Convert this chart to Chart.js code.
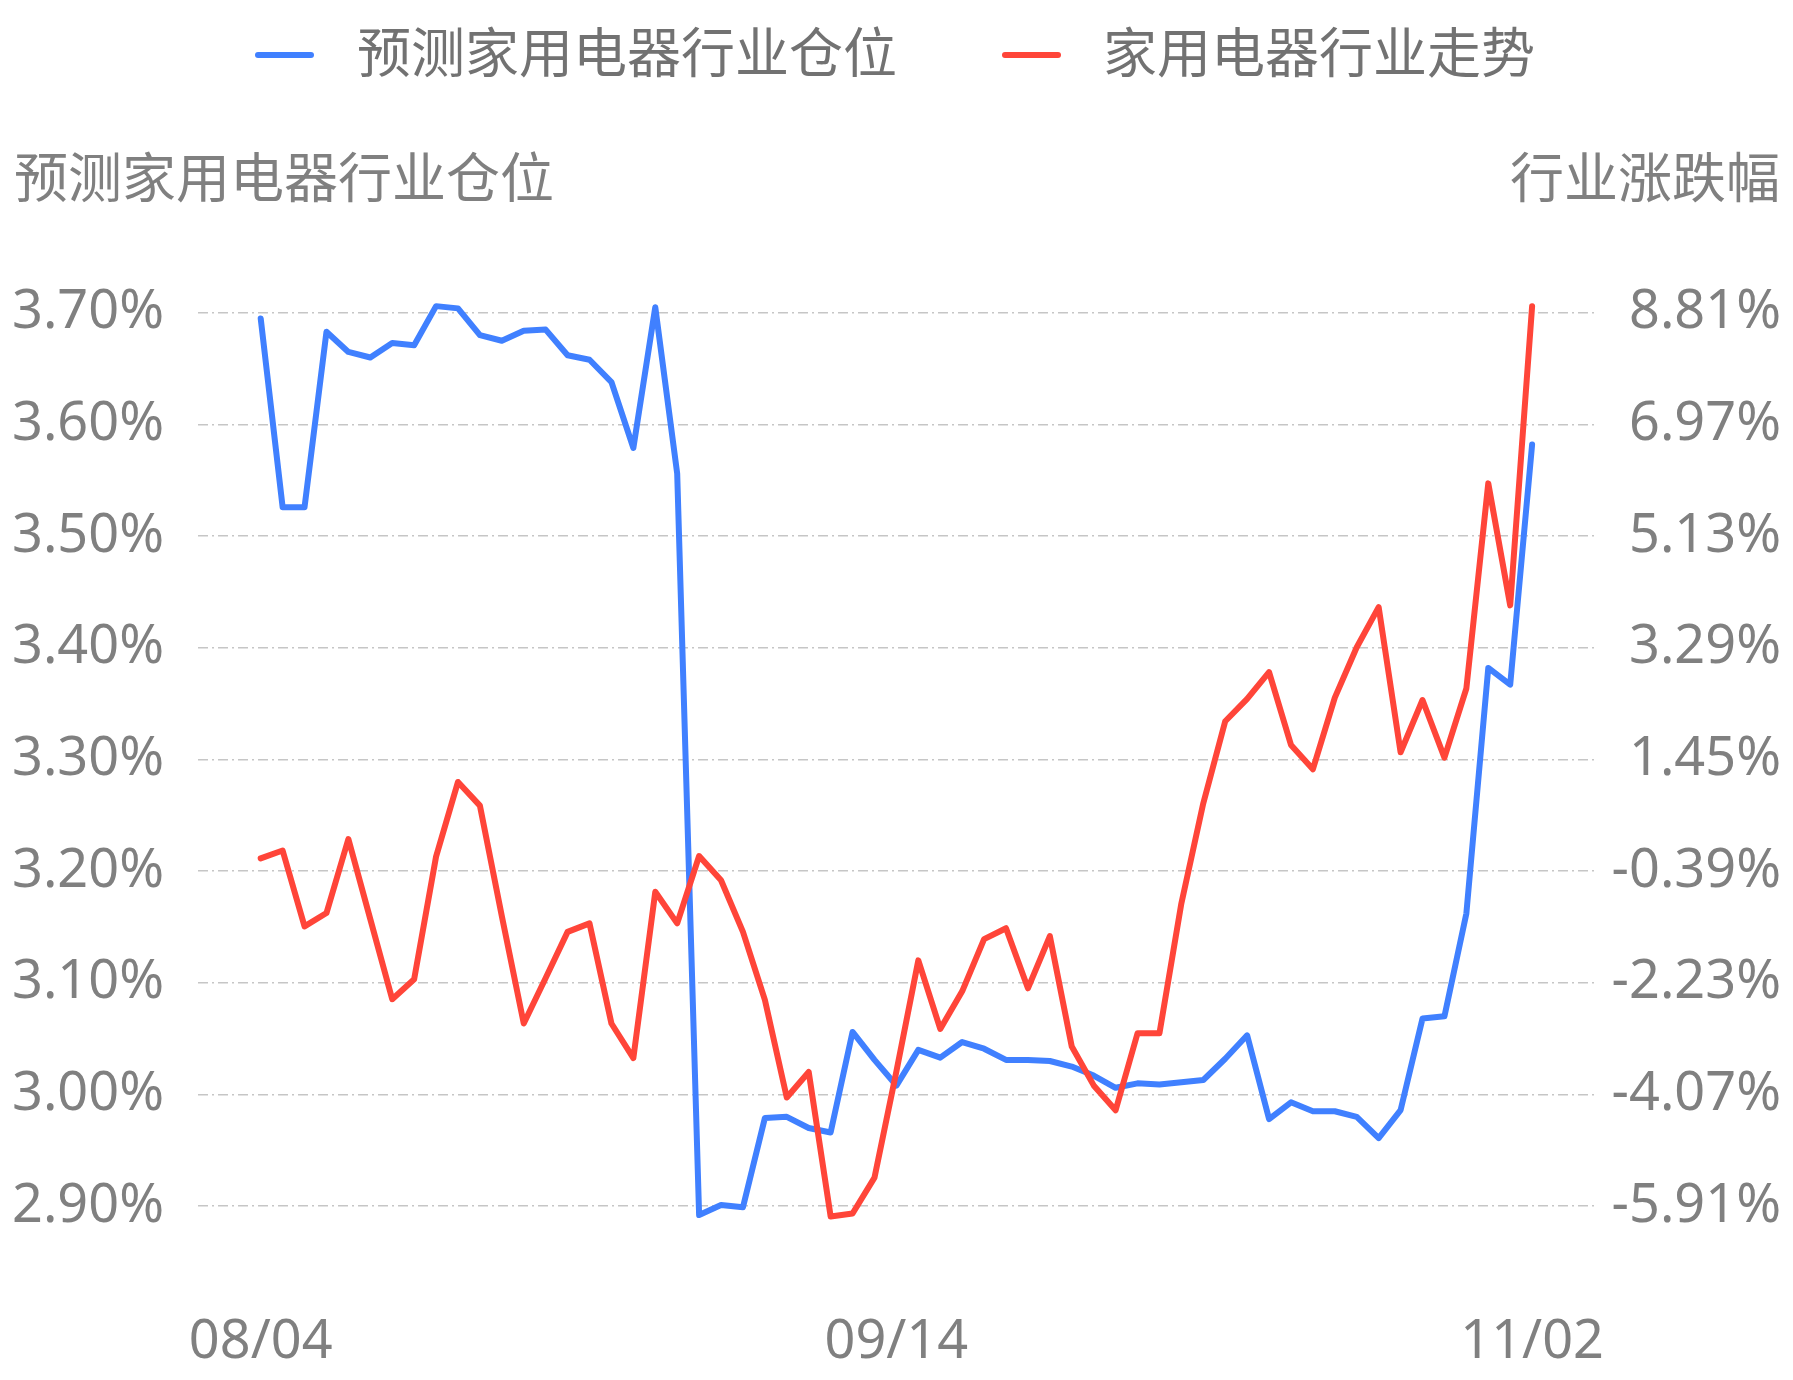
<!DOCTYPE html>
<html>
<head>
<meta charset="utf-8">
<script src="https://cdn.jsdelivr.net/npm/chart.js"></script>
<style>
  html, body { margin: 0; padding: 0; background: #fff; }
  #wrap { width: 1793px; height: 1380px; }
</style>
</head>
<body>
<div id="wrap"><canvas id="chart" width="1793" height="1380"></canvas></div>
<script>
// trading days shown on the x axis
const dates = [
  '08/04', '08/07', '08/08', '08/09', '08/10', '08/11', '08/14', '08/15', '08/16', '08/17',
  '08/18', '08/21', '08/22', '08/23', '08/24', '08/25', '08/28', '08/29', '08/30', '08/31',
  '09/01', '09/04', '09/05', '09/06', '09/07', '09/08', '09/11', '09/12', '09/13', '09/14',
  '09/15', '09/18', '09/19', '09/20', '09/21', '09/22', '09/25', '09/26', '09/27', '09/28',
  '10/09', '10/10', '10/11', '10/12', '10/13', '10/16', '10/17', '10/18', '10/19', '10/20',
  '10/23', '10/24', '10/25', '10/26', '10/27', '10/30', '10/31', '11/01', '11/02'
];

// 预测家用电器行业仓位 (left axis, %)
const positionValues = [
  3.695, 3.526, 3.526, 3.683, 3.665, 3.660, 3.673, 3.671, 3.706, 3.704,
  3.680, 3.675, 3.684, 3.685, 3.662, 3.658, 3.638, 3.579, 3.705, 3.556,
  2.892, 2.901, 2.899, 2.979, 2.980, 2.970, 2.966, 3.056, 3.031, 3.008,
  3.040, 3.033, 3.047, 3.041, 3.031, 3.031, 3.030, 3.025, 3.017, 3.006,
  3.010, 3.009, 3.011, 3.013, 3.032, 3.053, 2.978, 2.993, 2.985, 2.985,
  2.980, 2.961, 2.986, 3.068, 3.070, 3.162, 3.382, 3.367, 3.582
];

// 家用电器行业走势 (right axis, %)
const industryValues = [
  -0.18, -0.05, -1.30, -1.08, 0.14, -1.18, -2.50, -2.17, -0.15, 1.08,
  0.69, -1.13, -2.90, -2.15, -1.39, -1.25, -2.90, -3.47, -0.73, -1.25,
  -0.14, -0.54, -1.39, -2.51, -4.12, -3.70, -6.08, -6.03, -5.44, -3.69,
  -1.86, -2.99, -2.37, -1.51, -1.33, -2.32, -1.46, -3.28, -3.92, -4.33,
  -3.06, -3.06, -0.92, 0.73, 2.08, 2.45, 2.89, 1.69, 1.29, 2.47,
  3.30, 3.96, 1.57, 2.43, 1.48, 2.62, 6.00, 3.99, 8.92
];

const leftTicks = [2.90, 3.00, 3.10, 3.20, 3.30, 3.40, 3.50, 3.60, 3.70];
const rightTicks = [-5.91, -4.07, -2.23, -0.39, 1.45, 3.29, 5.13, 6.97, 8.81];
const xTickIndexes = [0, 29, 58];

const seriesNames = ['预测家用电器行业仓位', '家用电器行业走势'];
const leftTitle = '预测家用电器行业仓位';
const rightTitle = '行业涨跌幅';

const BLUE = '#4080ff';
const RED = '#ff4539';
const GREY = '#808080';
const FONT = '"Noto Sans", "Noto Sans CJK SC", sans-serif';

// left axis range a bit wider than the tick range; right axis kept aligned to it
const leftMin = 2.85, leftMax = 3.75;
const ratio = (rightTicks[1] - rightTicks[0]) / (leftTicks[1] - leftTicks[0]);
const rightMin = rightTicks[0] + (leftMin - leftTicks[0]) * ratio;
const rightMax = rightTicks[0] + (leftMax - leftTicks[0]) * ratio;

// legend and the two axis titles, drawn on top of the canvas
const headerPlugin = {
  id: 'header',
  afterDraw(chart) {
    const ctx = chart.ctx;
    ctx.save();
    ctx.font = '54px ' + FONT;
    ctx.textBaseline = 'middle';

    const legend = [
      { color: BLUE, x1: 258, x2: 311, tx: 357, text: seriesNames[0] },
      { color: RED, x1: 1005, x2: 1058, tx: 1103, text: seriesNames[1] }
    ];
    legend.forEach(function(it) {
      ctx.strokeStyle = it.color;
      ctx.lineWidth = 6;
      ctx.lineCap = 'round';
      ctx.beginPath();
      ctx.moveTo(it.x1, 55);
      ctx.lineTo(it.x2, 55);
      ctx.stroke();
      ctx.fillStyle = '#727272';
      ctx.textAlign = 'left';
      ctx.fillText(it.text, it.tx, 58);
    });

    ctx.fillStyle = GREY;
    ctx.textAlign = 'left';
    ctx.fillText(leftTitle, 14, 183);
    ctx.textAlign = 'right';
    ctx.fillText(rightTitle, 1780, 183);
    ctx.restore();
  }
};

const ctx = document.getElementById('chart').getContext('2d');
new Chart(ctx, {
  type: 'line',
  data: {
    datasets: [{
      label: seriesNames[0],
      data: positionValues.map((v, i) => ({ x: i, y: v })),
      borderColor: BLUE,
      borderWidth: 6,
      yAxisID: 'y',
      order: 1
    }, {
      label: seriesNames[1],
      data: industryValues.map((v, i) => ({ x: i, y: v })),
      borderColor: RED,
      borderWidth: 6,
      yAxisID: 'y1',
      order: 0
    }]
  },
  options: {
    responsive: false,
    animation: false,
    devicePixelRatio: 1,
    layout: { padding: { top: 257, left: 0, right: 12, bottom: 0 } },
    elements: {
      point: { radius: 0 },
      line: { tension: 0, borderCapStyle: 'round', borderJoinStyle: 'round', fill: false }
    },
    plugins: {
      legend: { display: false },
      tooltip: { enabled: false }
    },
    scales: {
      x: {
        type: 'linear',
        min: -2.86,
        max: 60.96,
        grid: { display: false, drawTicks: false },
        border: { display: false },
        afterBuildTicks: function(scale) {
          scale.ticks = xTickIndexes.map(v => ({ value: v }));
        },
        afterFit: function(scale) { scale.height = 118; },
        ticks: {
          autoSkip: false,
          maxRotation: 0,
          padding: 48,
          color: GREY,
          font: { family: FONT, size: 54 },
          callback: function(value) { return dates[value]; }
        }
      },
      y: {
        position: 'left',
        min: leftMin,
        max: leftMax,
        afterBuildTicks: function(scale) {
          scale.ticks = leftTicks.map(v => ({ value: v }));
        },
        afterFit: function(scale) { scale.width = 198; },
        grid: { color: '#c6c6c6', lineWidth: 1.5, drawTicks: false },
        border: { display: false, dash: [10, 4, 2, 4] },
        ticks: {
          padding: 34,
          color: GREY,
          font: { family: FONT, size: 54 },
          callback: function(value) { return value.toFixed(2) + '%'; }
        }
      },
      y1: {
        position: 'right',
        min: rightMin,
        max: rightMax,
        afterBuildTicks: function(scale) {
          scale.ticks = rightTicks.map(v => ({ value: v }));
        },
        afterFit: function(scale) { scale.width = 184; },
        grid: { display: false, drawTicks: false },
        border: { display: false },
        ticks: {
          crossAlign: 'far',
          padding: 10,
          color: GREY,
          font: { family: FONT, size: 54 },
          callback: function(value) { return value.toFixed(2) + '%'; }
        }
      }
    }
  },
  plugins: [headerPlugin]
});
</script>
</body>
</html>
